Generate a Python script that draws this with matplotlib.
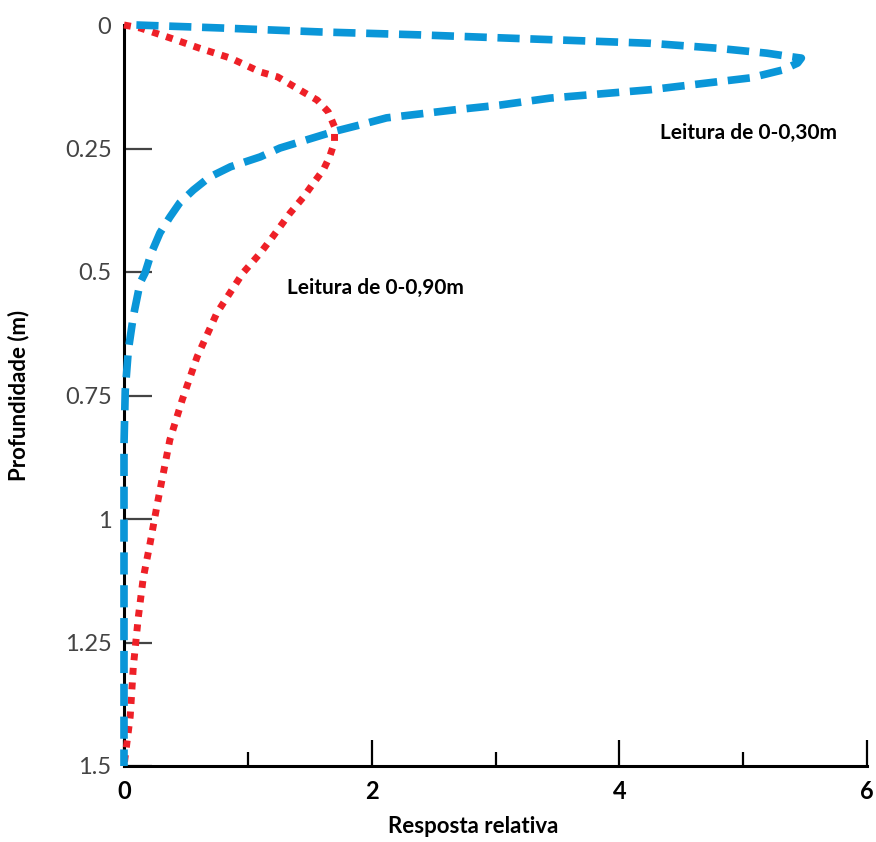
import matplotlib.pyplot as plt

plt.rcParams["font.family"] = ["Lato", "DejaVu Sans"]

# leitura de 0-0,30m (curva azul tracejada)
depth_030 = [0, 0.006, 0.014, 0.020, 0.026, 0.037, 0.047, 0.057, 0.064, 0.067,
             0.077, 0.091, 0.107, 0.131, 0.148, 0.162, 0.172, 0.188, 0.202, 0.216,
             0.249, 0.267, 0.287, 0.308, 0.334, 0.360, 0.389, 0.421, 0.462, 0.502,
             0.522, 0.59, 0.658, 0.74, 0.85, 1.0, 1.25, 1.5]
resp_030 = [0.1, 0.78, 1.58, 2.39, 3.04, 4.25, 4.79, 5.19, 5.38, 5.47,
            5.44, 5.32, 5.06, 4.25, 3.44, 3.04, 2.66, 2.12, 1.91, 1.69,
            1.26, 1.10, 0.86, 0.69, 0.56, 0.45, 0.37, 0.29, 0.22, 0.17,
            0.13, 0.075, 0.035, 0.01, 0.0, 0.0, 0.0, 0.0]

# leitura de 0-0,90m (curva vermelha pontilhada)
depth_090 = [0, 0.006, 0.026, 0.047, 0.067, 0.095, 0.105, 0.136, 0.152, 0.176,
             0.206, 0.237, 0.267, 0.293, 0.320, 0.348, 0.381, 0.429, 0.462, 0.502,
             0.583, 0.672, 0.759, 0.84, 0.968, 1.05, 1.12, 1.20, 1.30, 1.40, 1.5]
resp_090 = [0, 0.13, 0.37, 0.61, 0.86, 1.10, 1.24, 1.45, 1.56, 1.65,
            1.70, 1.70, 1.66, 1.61, 1.53, 1.45, 1.34, 1.20, 1.10, 0.96,
            0.75, 0.59, 0.47, 0.37, 0.27, 0.21, 0.155, 0.115, 0.075, 0.05, 0.0]

y_ticks = [0, 0.25, 0.5, 0.75, 1, 1.25, 1.5]
y_labels = ["0", "0.25", "0.5", "0.75", "1", "1.25", "1.5"]
x_major = [0, 2, 4, 6]
x_minor = [1, 3, 5]

fig = plt.figure(figsize=(8.76, 8.42), dpi=100)
ax = fig.add_axes([124 / 876, 76 / 842, 743 / 876, 741 / 842])

ax.plot(resp_090, depth_090, color="#ee2027", lw=5, dashes=(1, 1.1),
        clip_on=False, zorder=3)
ax.plot(resp_030, depth_030, color="#0a96d8", lw=5.5, dashes=(2.9, 1.4),
        clip_on=False, zorder=4)

ax.set_xlim(0, 6)
ax.set_ylim(1.5, 0)

for side in ["top", "right"]:
    ax.spines[side].set_visible(False)
for side in ["left", "bottom"]:
    ax.spines[side].set_linewidth(2.2)
    ax.spines[side].set_color("black")

ax.set_yticks(y_ticks)
ax.set_yticklabels(y_labels, fontsize=17, color="#444444")
ax.tick_params(axis="y", direction="in", length=20, width=1.6, color="#444444", pad=9)
ax.yaxis.get_major_ticks()[0].tick1line.set_visible(False)

ax.set_xticks(x_major)
ax.set_xticks(x_minor, minor=True)
ax.set_xticklabels([str(v) for v in x_major], fontsize=17, fontweight="bold")
ax.tick_params(axis="x", which="major", direction="in", length=19, width=1.6, pad=10)
ax.tick_params(axis="x", which="minor", direction="in", length=10, width=1.6)

ax.set_xlabel("Resposta relativa", fontsize=16, fontweight="bold")
ax.xaxis.set_label_coords(0.47, -0.068)
ax.set_ylabel("Profundidade (m)", fontsize=16, fontweight="bold")
ax.yaxis.set_label_coords(-0.128, 0.5)

ax.text(4.33, 0.219, "Leitura de 0-0,30m", fontsize=15, fontweight="bold",
        va="center", ha="left")
ax.text(1.32, 0.532, "Leitura de 0-0,90m", fontsize=15, fontweight="bold",
        va="center", ha="left")

fig.savefig("out.png", dpi=100)
